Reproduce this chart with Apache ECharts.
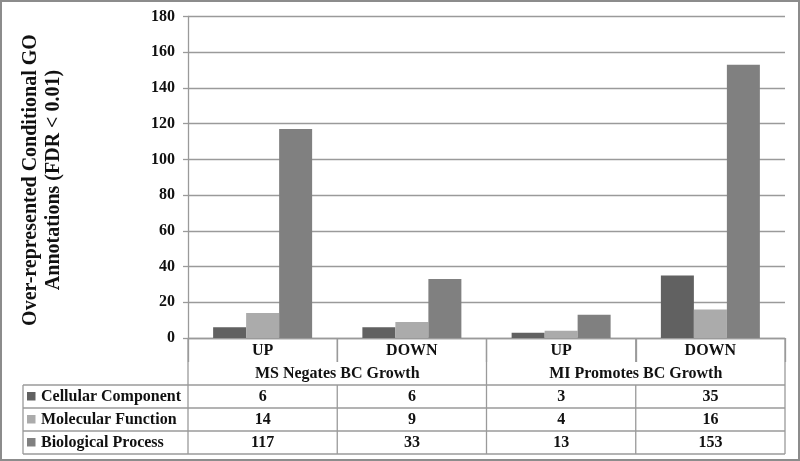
<!DOCTYPE html>
<html>
<head>
<meta charset="utf-8">
<script src="https://cdn.jsdelivr.net/npm/echarts@6/dist/echarts.min.js"></script>
<style>html,body{margin:0;padding:0;background:#fff}#c{width:800px;height:461px}</style>
</head>
<body>
<div id="c"></div>
<script>
const categories = ['UP', 'DOWN', 'UP', 'DOWN'];
const groups = ['MS Negates BC Growth', 'MI Promotes BC Growth'];
const seriesNames = ['Cellular Component', 'Molecular Function', 'Biological Process'];
const cellular = [6, 6, 3, 35];
const molecular = [14, 9, 4, 16];
const biological = [117, 33, 13, 153];
const yTicks = [0, 20, 40, 60, 80, 100, 120, 140, 160, 180];
const yTitle = ['Over-represented Conditional GO', 'Annotations (FDR < 0.01)'];

const colors = ['#616161', '#ababab', '#808080'];
const values = [cellular, molecular, biological];
const FONT = '"Liberation Serif", "Times New Roman", serif';
const LINE = '#9a9a9a';

const G = {left: 188, right: 785, top: 16.5, bottom: 338};
const catW = (G.right - G.left) / categories.length;
const rowTop = 385, rowH = 23;
const tableLeft = 23, catRowBottom = 362, tableBottom = rowTop + rowH * 3;

const chart = echarts.init(document.getElementById('c'), null, {renderer: 'canvas'});

const graphics = [];
// outer frame
graphics.push({type: 'rect', shape: {x: 1, y: 1, width: 798, height: 459}, style: {fill: null, stroke: '#8c8c8c', lineWidth: 2}, silent: true});
// y title
graphics.push({type: 'text', x: 42, y: 180, rotation: Math.PI / 2,
  style: {text: yTitle.join('\n'), font: 'bold 20px ' + FONT, fill: '#111', align: 'center', verticalAlign: 'middle', lineHeight: 23}});
function line(x1, y1, x2, y2) {
  graphics.push({type: 'line', shape: {x1, y1, x2, y2}, style: {stroke: LINE, lineWidth: 1.3}, silent: true});
}
// vertical lines through group row and table
line(G.left, G.bottom, G.left, tableBottom);
line(G.right, G.bottom, G.right, tableBottom);
line(G.left + catW * 2, G.bottom, G.left + catW * 2, tableBottom);
for (let i = 1; i < categories.length; i += 2) {
  const x = G.left + catW * i;
  line(x, G.bottom, x, catRowBottom);
  line(x, rowTop, x, tableBottom);
}
line(tableLeft, rowTop, tableLeft, tableBottom);
for (let r = 0; r <= 3; r++) line(tableLeft, rowTop + rowH * r, G.right, rowTop + rowH * r);
// group labels
groups.forEach((g, i) => {
  graphics.push({type: 'text', x: G.left + catW * (2 * i + 1), y: 373.5,
    style: {text: g, font: 'bold 16px ' + FONT, fill: '#111', align: 'center', verticalAlign: 'middle'}});
});
// table rows
seriesNames.forEach((name, r) => {
  const cy = rowTop + rowH * r + rowH / 2;
  graphics.push({type: 'rect', shape: {x: 27, y: cy - 4.5, width: 8.5, height: 8.5}, style: {fill: colors[r]}});
  graphics.push({type: 'text', x: 41, y: cy + 0.5, style: {text: name, font: 'bold 16px ' + FONT, fill: '#111', align: 'left', verticalAlign: 'middle'}});
  values[r].forEach((v, c) => {
    graphics.push({type: 'text', x: G.left + catW * (c + 0.5), y: cy + 0.5,
      style: {text: String(v), font: 'bold 16px ' + FONT, fill: '#111', align: 'center', verticalAlign: 'middle'}});
  });
});

chart.setOption({
  animation: false,
  backgroundColor: '#fff',
  grid: {left: G.left, right: 800 - G.right, top: G.top, bottom: 461 - G.bottom, containLabel: false},
  xAxis: {
    type: 'category', data: categories,
    axisLine: {lineStyle: {color: LINE, width: 1.3}},
    axisTick: {show: true, length: 24, lineStyle: {color: LINE, width: 1.3}},
    axisLabel: {fontFamily: FONT, fontWeight: 'bold', fontSize: 16, color: '#111', margin: 5}
  },
  yAxis: {
    type: 'value', min: 0, max: 180, interval: 20,
    axisLine: {show: true, lineStyle: {color: LINE, width: 1.3}},
    axisTick: {show: true, length: 5, lineStyle: {color: LINE, width: 1.3}},
    splitLine: {show: true, lineStyle: {color: LINE, width: 1.3}},
    axisLabel: {fontFamily: FONT, fontWeight: 'bold', fontSize: 16, color: '#111', margin: 13,
      formatter: v => yTicks.includes(v) ? String(v) : ''}
  },
  series: seriesNames.map((n, i) => ({
    name: n, type: 'bar', data: values[i], barWidth: 33, barGap: '0%',
    itemStyle: {color: colors[i]}
  })),
  graphic: graphics
});
</script>
</body>
</html>
